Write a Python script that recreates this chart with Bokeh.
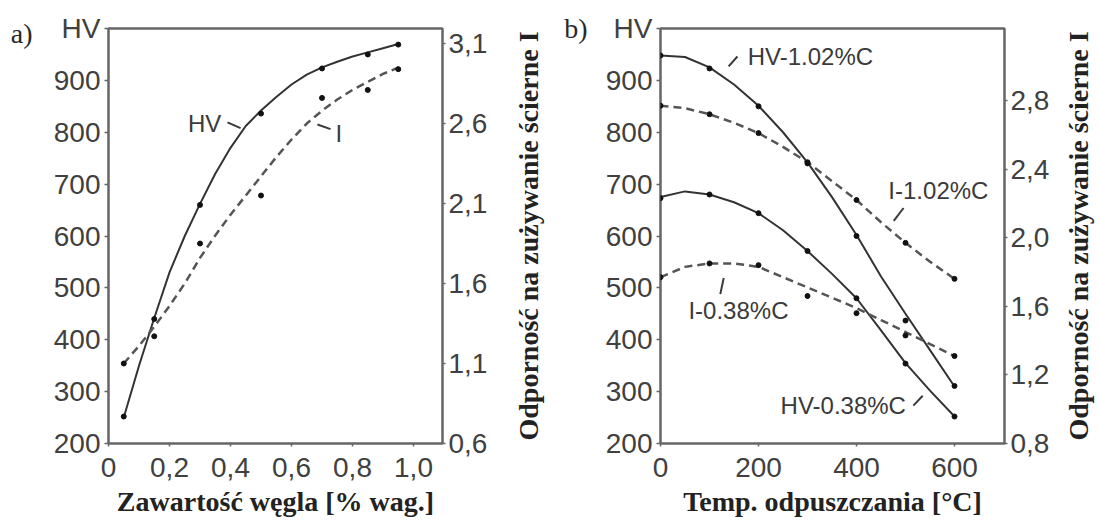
import math
from bokeh.plotting import figure
from bokeh.models import (Range1d, LinearAxis, FixedTicker,
                          ColumnDataSource, CustomJSTickFormatter)
from bokeh.layouts import row
from bokeh.embed import file_html
from bokeh.resources import INLINE
from bokeh.core.properties import value

# ---------------- data: panel a ----------------
carbon = [0.05, 0.15, 0.30, 0.50, 0.70, 0.85, 0.95]
hv_a = [252, 440, 660, 836, 923, 950, 969]
i_a = [1.10, 1.27, 1.85, 2.15, 2.76, 2.81, 2.94]

carbon_curve = [0.05, 0.10, 0.15, 0.20, 0.25, 0.30, 0.35, 0.40, 0.45, 0.50,
                0.55, 0.60, 0.65, 0.70, 0.75, 0.80, 0.85, 0.90, 0.95]
hv_a_curve = [250, 350, 442, 530, 600, 662, 720, 770, 812, 842,
              868, 892, 911, 925, 936, 946, 954, 962, 970]
i_a_curve = [1.10, 1.21, 1.33, 1.46, 1.60, 1.76, 1.90, 2.03, 2.15, 2.27,
             2.39, 2.50, 2.60, 2.68, 2.75, 2.81, 2.86, 2.91, 2.95]

# ---------------- data: panel b ----------------
temp = [0, 100, 200, 300, 400, 500, 600]
hv_102 = [948, 923, 850, 740, 600, 437, 311]
hv_038 = [673, 680, 644, 571, 480, 354, 252]
i_102 = [2.77, 2.72, 2.61, 2.44, 2.22, 1.97, 1.76]
i_038 = [1.77, 1.85, 1.84, 1.66, 1.56, 1.43, 1.31]

temp_curve = [0, 50, 100, 150, 200, 250, 300, 350, 400, 450, 500, 550, 600]
hv_102_curve = [948, 945, 925, 892, 851, 800, 742, 675, 602, 522, 450, 380, 310]
hv_038_curve = [675, 686, 680, 665, 644, 611, 571, 527, 480, 418, 355, 302, 252]
i_102_curve = [2.77, 2.755, 2.72, 2.67, 2.61, 2.53, 2.44, 2.33, 2.22, 2.09, 1.97, 1.86, 1.76]
i_038_curve = [1.77, 1.83, 1.85, 1.85, 1.83, 1.77, 1.71, 1.65, 1.59, 1.52, 1.45, 1.38, 1.31]

# ---------------- ticks ----------------
hv_ticks = [200, 300, 400, 500, 600, 700, 800, 900, 1000]
hv_labels = ["200", "300", "400", "500", "600", "700", "800", "900", "HV"]
a_x_ticks = [0, 0.2, 0.4, 0.6, 0.8, 1.0]
a_x_labels = ["0", "0,2", "0,4", "0,6", "0,8", "1,0"]
a_i_ticks = [0.6, 1.1, 1.6, 2.1, 2.6, 3.1]
a_i_labels = ["0,6", "1,1", "1,6", "2,1", "2,6", "3,1"]
b_x_ticks = [0, 200, 400, 600]
b_x_labels = ["0", "200", "400", "600"]
b_i_ticks = [0.8, 1.2, 1.6, 2.0, 2.4, 2.8]
b_i_labels = ["0,8", "1,2", "1,6", "2,0", "2,4", "2,8"]

# panel captions, placed as labels of an outer left axis
a_caption_tick = [990]
a_caption = ["a)"]
b_caption_tick = [1000]
b_caption = ["b)"]

# ---------------- annotations ----------------
a_note_text = ["HV", "I"]
a_note_x = [0.315, 0.755]
a_note_y = [817, 798]
a_lead = dict(x0=[0.39, 0.685], y0=[819, 815], x1=[0.433, 0.728], y1=[808, 806])

b_note_text = ["HV-1.02%C", "I-1.02%C", "I-0.38%C", "HV-0.38%C"]
b_note_x = [178, 465, 57, 245]
b_note_y = [946, 687, 456, 273]
b_lead = dict(x0=[139, 476, 122, 516], y0=[927, 629, 488, 273],
              x1=[157, 496, 129, 535], y1=[946, 654, 519, 292])

SANS = "Liberation Sans"
SERIF = "Liberation Serif"
TICK_SIZE = "28px"
TITLE_SIZE = "28px"
FRAME = "#666666"
SOLID = "#333333"
DASH = "#555555"
TEXT = "#3a3a3a"
RIGHT_TITLE = "Odporność na zużywanie ścierne I"
TOP, BOTTOM = 28, 79


def fmt(ticks, labels):
    return CustomJSTickFormatter(args=dict(vals=ticks, labs=labels), code="""
        for (let i = 0; i < vals.length; i++) {
            if (Math.abs(vals[i] - tick) < 1e-9) { return labs[i]; }
        }
        return String(tick);
    """)


def style_axis(ax, ticks, labels, tick_out=4, standoff=4):
    ax.ticker = FixedTicker(ticks=ticks)
    ax.formatter = fmt(ticks, labels)
    ax.axis_line_color = None
    ax.major_tick_line_color = FRAME
    ax.major_tick_line_width = 1.5
    ax.major_tick_out = tick_out
    ax.major_tick_in = 0
    ax.minor_tick_line_color = None
    ax.major_label_text_font = SANS
    ax.major_label_text_font_size = TICK_SIZE
    ax.major_label_text_color = "#404040"
    ax.major_label_standoff = standoff
    ax.axis_label_text_font = SERIF
    ax.axis_label_text_font_style = "bold"
    ax.axis_label_text_font_size = TITLE_SIZE
    ax.axis_label_text_color = "#222222"


def make_fig(width, x_end, i_start, i_end, border_left, border_right):
    p = figure(width=width, height=522, output_backend="svg", toolbar_location=None,
               x_range=Range1d(0, x_end), y_range=Range1d(200, 1000),
               min_border_left=border_left, min_border_right=border_right,
               min_border_top=TOP, min_border_bottom=BOTTOM)
    p.extra_y_ranges = {"i": Range1d(i_start, i_end)}
    p.xgrid.visible = False
    p.ygrid.visible = False
    p.outline_line_color = FRAME
    p.outline_line_width = 2.5
    p.background_fill_color = "white"
    p.border_fill_color = "white"
    return p


def add_right_axis(p, ticks, labels):
    ax = LinearAxis(y_range_name="i")
    style_axis(ax, ticks, labels, tick_out=3, standoff=3)
    p.add_layout(ax, "right")
    return ax


def add_caption(p, ticks, labels, standoff):
    ax = LinearAxis()
    ax.ticker = FixedTicker(ticks=ticks)
    ax.formatter = fmt(ticks, labels)
    ax.axis_line_color = None
    ax.major_tick_line_color = None
    ax.major_tick_out = 0
    ax.major_tick_in = 0
    ax.minor_tick_line_color = None
    ax.major_label_text_font = SERIF
    ax.major_label_text_font_size = "28px"
    ax.major_label_text_color = "#2a2a2a"
    ax.major_label_standoff = standoff
    p.add_layout(ax, "left")


def title_fig(width, border_left, standoff):
    """A narrow companion figure whose left-axis label is the vertical
    right-hand title (reads bottom-to-top, centred on the plot frame)."""
    t = figure(width=width, height=522, output_backend="svg", toolbar_location=None,
               x_range=Range1d(0, 1), y_range=Range1d(0, 1),
               min_border_left=border_left, min_border_right=0,
               min_border_top=TOP, min_border_bottom=BOTTOM)
    t.xaxis.visible = False
    t.xgrid.visible = False
    t.ygrid.visible = False
    t.outline_line_color = None
    t.background_fill_color = "white"
    t.border_fill_color = "white"
    ax = t.yaxis[0]
    ax.ticker = FixedTicker(ticks=[])
    ax.axis_line_color = None
    ax.major_tick_line_color = None
    ax.minor_tick_line_color = None
    ax.major_tick_out = 0
    ax.major_label_standoff = 0
    ax.axis_label = RIGHT_TITLE
    ax.axis_label_standoff = standoff
    ax.axis_label_text_font = SERIF
    ax.axis_label_text_font_style = "bold"
    ax.axis_label_text_font_size = TITLE_SIZE
    ax.axis_label_text_color = "#222222"
    return t


def dots(p, x, y, **kw):
    p.scatter(x, y, size=5, color="#111111", **kw)


# ================= panel a =================
pa = make_fig(500, 1.095, 0.6, 3.194, 108, 58)
style_axis(pa.yaxis[0], hv_ticks, hv_labels)
style_axis(pa.xaxis[0], a_x_ticks, a_x_labels, tick_out=3, standoff=11)
pa.xaxis[0].axis_label = "Zawartość węgla [% wag.]"
pa.xaxis[0].axis_label_standoff = 6
add_right_axis(pa, a_i_ticks, a_i_labels)
add_caption(pa, a_caption_tick, a_caption, 18)

pa.line(carbon_curve, hv_a_curve, line_color=SOLID, line_width=2)
pa.line(carbon_curve, i_a_curve, line_color=DASH, line_width=2.5,
        line_dash="8 5", y_range_name="i")
dots(pa, carbon, hv_a)
dots(pa, carbon, i_a, y_range_name="i")

pa.segment(x0="x0", y0="y0", x1="x1", y1="y1", source=ColumnDataSource(a_lead),
           line_color=TEXT, line_width=2)
pa.text(x=a_note_x, y=a_note_y, text=a_note_text, text_font=value(SANS),
        text_font_size="24px", text_color=TEXT, text_align="center",
        text_baseline="middle")

ta = title_fig(52, 47, 4)

# ================= panel b =================
pb = make_fig(500, 702, 0.8, 3.22, 108, 48)
style_axis(pb.yaxis[0], hv_ticks, hv_labels)
style_axis(pb.xaxis[0], b_x_ticks, b_x_labels, tick_out=3, standoff=11)
pb.xaxis[0].axis_label = "Temp. odpuszczania [°C]"
pb.xaxis[0].axis_label_standoff = 6
add_right_axis(pb, b_i_ticks, b_i_labels)
add_caption(pb, b_caption_tick, b_caption, 15)

pb.line(temp_curve, hv_102_curve, line_color=SOLID, line_width=2)
pb.line(temp_curve, hv_038_curve, line_color=SOLID, line_width=2)
pb.line(temp_curve, i_102_curve, line_color=DASH, line_width=2.5,
        line_dash="8 5", y_range_name="i")
pb.line(temp_curve, i_038_curve, line_color=DASH, line_width=2.5,
        line_dash="8 5", y_range_name="i")
dots(pb, temp, hv_102)
dots(pb, temp, hv_038)
dots(pb, temp, i_102, y_range_name="i")
dots(pb, temp, i_038, y_range_name="i")

pb.segment(x0="x0", y0="y0", x1="x1", y1="y1", source=ColumnDataSource(b_lead),
           line_color=TEXT, line_width=2)
pb.text(x=b_note_x, y=b_note_y, text=b_note_text, text_font=value(SANS),
        text_font_size="24px", text_color=TEXT, text_align="left",
        text_baseline="middle")

tb = title_fig(47, 41, 0)

layout = row(pa, ta, pb, tb, spacing=0)
open("out.html", "w").write(file_html(layout, INLINE))
